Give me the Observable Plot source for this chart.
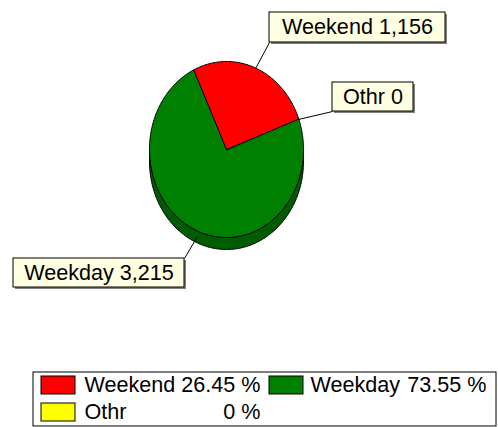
<!DOCTYPE html>
<html>
<head>
<meta charset="utf-8">
<script src="https://cdn.jsdelivr.net/npm/d3@7"></script>
<script src="https://cdn.jsdelivr.net/npm/@observablehq/plot@0.6"></script>
<style>
  html, body { margin: 0; padding: 0; background: #ffffff; }
  #chart svg { display: block; }
</style>
</head>
<body>
<div id="chart"></div>
<script>
// ---- data ----
const categories = ["Weekend", "Weekday", "Othr"];
const values = [1156, 3215, 0];
const colors = ["#ff0000", "#008000", "#ffff00"];

// ---- layout ----
const W = 498, H = 427;
const pie = { cx: 226, cy: 149, rx: 77, ry: 88, depth: 12, start: 70 };
const sideColor = "#005c00";
const labelBoxes = { Weekend: [269, 12, 445, 42], Weekday: [13, 258, 184, 287], Othr: [332, 82, 413, 111] };
const legendBox = [33, 372, 496, 426];
const legendItems = [
  { sw: [41, 376, 75, 394], nameX: 84, pctX: 260, ty: 385 },
  { sw: [269, 376, 303, 394], nameX: 310, pctX: 486, ty: 385 },
  { sw: [41, 403, 75, 421], nameX: 84, pctX: 260, ty: 412 }
];
const font = "'Liberation Sans', Arial, sans-serif";
const fs = 21.6;

const total = d3.sum(values);
const fmt = d3.format(",");

function pt(a, dy = 0) {
  const r = a * Math.PI / 180;
  return { x: pie.cx + pie.rx * Math.sin(r), y: pie.cy - pie.ry * Math.cos(r) + dy };
}

// slices (counter-clockwise from start angle)
const slicePts = [];
const anchors = [];
let a = pie.start;
categories.forEach((name, i) => {
  const span = values[i] / total * 360;
  const a0 = a, a1 = a - span;
  const mid = a0 - span / 2;
  let m = ((mid % 360) + 360) % 360;
  const front = m > 90 && m < 270;
  anchors.push({ name, ...pt(mid, front ? pie.depth / 2 : 0) });
  if (span > 0) {
    slicePts.push({ name, color: colors[i], x: pie.cx, y: pie.cy });
    const n = Math.max(2, Math.ceil(span));
    for (let k = 0; k <= n; k++) {
      slicePts.push({ name, color: colors[i], ...pt(a0 - span * k / n) });
    }
  }
  a = a1;
});

// side band
const sidePts = [];
for (let t = 90; t <= 270; t++) sidePts.push(pt(t, pie.depth));
for (let t = 270; t >= 90; t--) sidePts.push(pt(t, 0));

// leader lines
const leaders = anchors.map(p => {
  const b = labelBoxes[p.name];
  const corners = [[b[0], b[1]], [b[2], b[1]], [b[0], b[3]], [b[2], b[3]]];
  let best = corners[0], bd = Infinity;
  for (const c of corners) {
    const d = (c[0] - p.x) ** 2 + (c[1] - p.y) ** 2;
    if (d < bd) { bd = d; best = c; }
  }
  return { x1: p.x, y1: p.y, x2: best[0], y2: best[1] };
});

const labels = categories.map((name, i) => {
  const b = labelBoxes[name];
  return { name, text: `${name} ${fmt(values[i])}`, x1: b[0], y1: b[1], x2: b[2], y2: b[3], cx: (b[0] + b[2]) / 2, cy: (b[1] + b[3]) / 2 };
});

const legend = categories.map((name, i) => {
  const L = legendItems[i];
  const p = values[i] / total * 100;
  return {
    name, color: colors[i],
    x1: L.sw[0], y1: L.sw[1], x2: L.sw[2], y2: L.sw[3],
    nameX: L.nameX, pctX: L.pctX, ty: L.ty,
    pct: (p === 0 ? "0" : p.toFixed(2)) + " %"
  };
});

const chart = Plot.plot({
  width: W, height: H,
  margin: 0,
  x: { domain: [0, W], range: [0, W], axis: null },
  y: { domain: [0, H], range: [0, H], axis: null },
  style: { background: "#ffffff", fontFamily: font },
  marks: [
    // pie side
    Plot.line(sidePts, { x: "x", y: "y", curve: "linear-closed", fill: sideColor, stroke: "black", strokeWidth: 1 }),
    // pie top slices
    Plot.line(slicePts, { x: "x", y: "y", z: "name", curve: "linear-closed", fill: "color", stroke: "black", strokeWidth: 1 }),
    // leader lines
    Plot.link(leaders, { x1: "x1", y1: "y1", x2: "x2", y2: "y2", stroke: "black", strokeWidth: 1 }),
    // label box shadows + boxes
    Plot.rect(labels, { x1: d => d.x1 + 2, y1: d => d.y1 + 2, x2: d => d.x2 + 2, y2: d => d.y2 + 2, fill: "#808080" }),
    Plot.rect(labels, { x1: "x1", y1: "y1", x2: "x2", y2: "y2", fill: "#ffffe1", stroke: "black", strokeWidth: 1 }),
    Plot.text(labels, { x: "cx", y: "cy", text: "text", fill: "black", fontSize: fs, textAnchor: "middle", lineAnchor: "middle" }),
    // legend
    Plot.rect([legendBox], { x1: d => d[0], y1: d => d[1], x2: d => d[2], y2: d => d[3], fill: "white", stroke: "black", strokeWidth: 1 }),
    Plot.rect(legend, { x1: "x1", y1: "y1", x2: "x2", y2: "y2", fill: "color", stroke: "black", strokeWidth: 1 }),
    Plot.text(legend, { x: "nameX", y: "ty", text: "name", fill: "black", fontSize: fs, textAnchor: "start", lineAnchor: "middle" }),
    Plot.text(legend, { x: "pctX", y: "ty", text: "pct", fill: "black", fontSize: fs, textAnchor: "end", lineAnchor: "middle" })
  ]
});
document.getElementById("chart").appendChild(chart);
</script>
</body>
</html>
